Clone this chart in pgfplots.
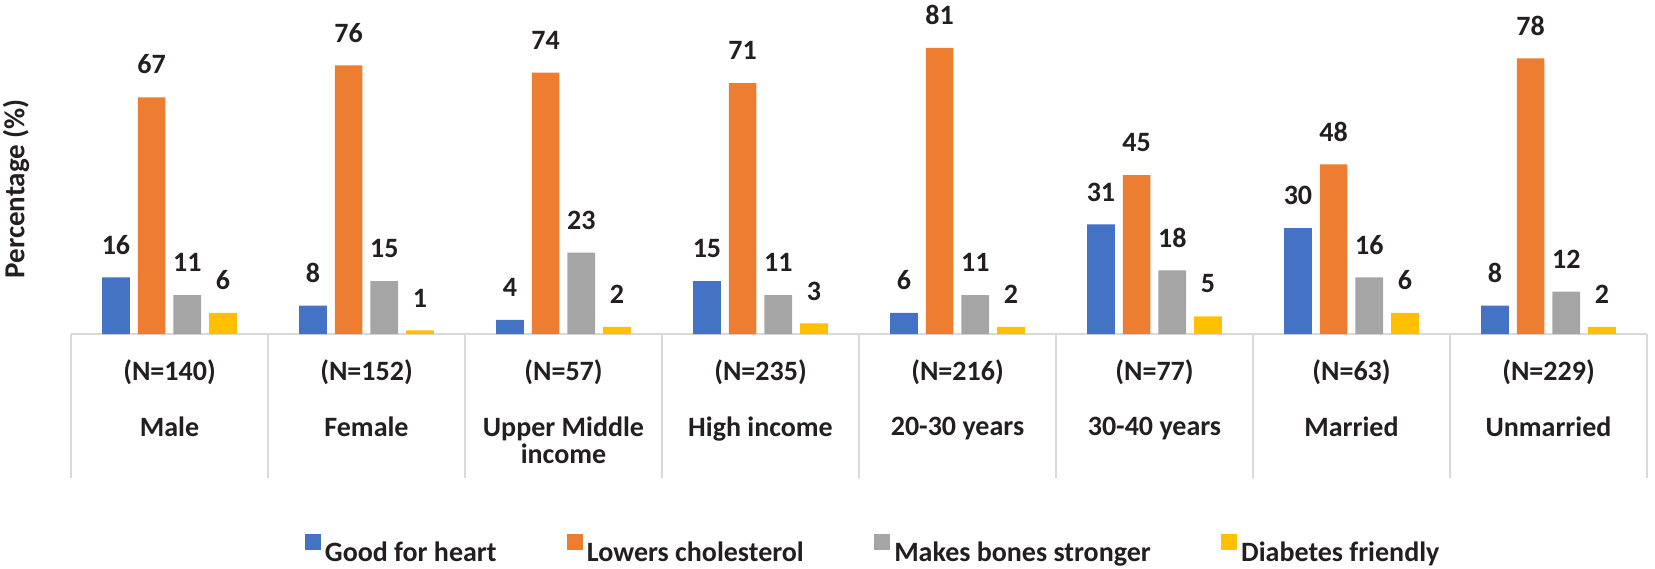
\documentclass[border=0pt]{standalone}
\usepackage{pgfplots}
\pgfplotsset{compat=1.18}
\usepackage{fontspec}
\setmainfont{Carlito}
\definecolor{cblue}{HTML}{4472C4}
\definecolor{corange}{HTML}{ED7D31}
\definecolor{cgray}{HTML}{A5A5A5}
\definecolor{cyellow}{HTML}{FFC000}
\definecolor{cline}{HTML}{D9D9D9}
\definecolor{ctext}{HTML}{231F20}
\newcommand{\lab}[2]{\begin{tabular}[t]{@{}c@{}}(N=#1)\\[14.5pt]#2\end{tabular}}
\newcommand{\lf}{\fontsize{14}{13}\selectfont\bfseries}
\begin{document}
\begin{tikzpicture}
\begin{axis}[
  name=ax,
  scale only axis,
  width=788pt, height=159pt,
  xmin=-0.5, xmax=7.5, ymin=0, ymax=90,
  enlarge x limits=false,
  clip=false,
  separate axis lines,
  axis x line*=bottom,
  axis y line*=left,
  x axis line style={draw=cline, line width=1pt},
  y axis line style={draw=none},
  ytick=\empty,
  xtick={0,...,7},
  xticklabels={{\lab{140}{Male}},{\lab{152}{Female}},{\lab{57}{Upper Middle\\income}},{\lab{235}{High income}},{\lab{216}{20-30 years}},{\lab{77}{30-40 years}},{\lab{63}{Married}},{\lab{229}{Unmarried}}},
  xticklabel style={anchor=base, yshift=-23pt, font=\lf, text=ctext},
  major tick length=0pt,
  tick align=outside,
  xtick pos=bottom,
  extra x ticks={-0.5,0.5,...,7.5},
  extra x tick labels={},
  extra x tick style={major tick length=72pt, tick align=outside, tick style={draw=cline, line width=1pt}},
  ylabel={Percentage (\%)},
  ylabel style={at={(rel axis cs:0,0.457)}, anchor=center, yshift=27.5pt, font=\fontsize{14.5}{13}\selectfont\bfseries, text=ctext},
  ybar=4pt,
  bar width=13.85pt,
  /pgf/number format/assume math mode=true,
  nodes near coords,
  every node near coord/.append style={font=\lf, text=ctext, anchor=base, inner ysep=0pt, yshift=11.7pt},
  legend columns=4,
  legend style={at={(rel axis cs:0.5095,0)}, yshift=-108.5pt, anchor=center, draw=none, font=\lf, text=ctext,
    /tikz/every even column/.append style={column sep=33pt}},
  legend image code/.code={\fill[#1] (0pt,1.3pt) rectangle (8.2pt,9.5pt);},
]
\addplot[fill=cblue, draw=none] coordinates {(0,16) (1,8) (2,4) (3,15) (4,6) (5,31) (6,30) (7,8)};
\addplot[fill=corange, draw=none] coordinates {(0,67) (1,76) (2,74) (3,71) (4,81) (5,45) (6,48) (7,78)};
\addplot[fill=cgray, draw=none] coordinates {(0,11) (1,15) (2,23) (3,11) (4,11) (5,18) (6,16) (7,12)};
\addplot[fill=cyellow, draw=none] coordinates {(0,6) (1,1) (2,2) (3,3) (4,2) (5,5) (6,6) (7,2)};
\legend{Good for heart, Lowers cholesterol, Makes bones stronger, Diabetes friendly}
\end{axis}
\pgfresetboundingbox
\path (ax.south west) ++(-35.5pt,-117pt) rectangle ++(827.5pt,284pt);
\end{tikzpicture}
\end{document}
